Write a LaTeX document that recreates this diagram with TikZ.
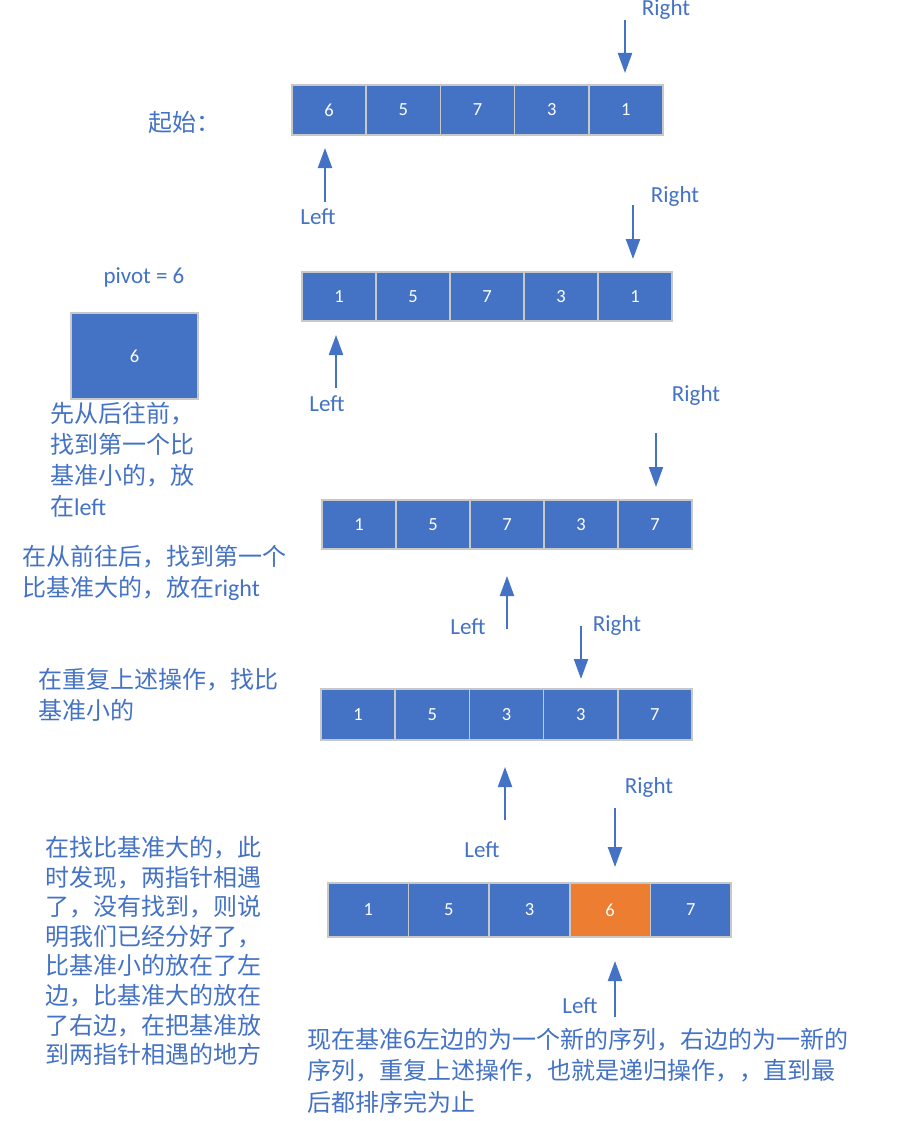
\documentclass[tikz,border=0pt]{standalone}
\usepackage{fontspec}
\setmainfont{Carlito}
\newfontfamily\cjk{Noto Sans CJK SC}
\newfontfamily\lat{Carlito}
\usetikzlibrary{arrows.meta}
\definecolor{cblue}{HTML}{4472C4}
\definecolor{corange}{HTML}{ED7D31}
\definecolor{cborder}{HTML}{C8C8C8}
\begin{document}
\begin{tikzpicture}[x=1pt,y=-1pt,
  cell/.style={draw=cborder, line width=1.5pt, fill=cblue, text=white, inner sep=0pt,
    font=\fontsize{18.5}{20}\selectfont},
  lbl/.style={text=cblue, font=\fontsize{23}{28}\selectfont, inner sep=0pt},
  note/.style={text=cblue, font=\cjk\fontsize{24}{31}\selectfont, align=left, inner sep=0pt, anchor=north west},
  arr/.style={draw=cblue, line width=2.2pt, -{Triangle[length=20pt,width=14pt]}}]
\useasboundingbox (0,0) rectangle (918,1121);
\fill[white] (0,0) rectangle (918,1121);

% rows of cells
\foreach \v [count=\i] in {6,5,7,3,1}
  \node[cell, minimum width=74.2pt, minimum height=50pt] (r1c\i) at ({292+74.2*(\i-0.5)},110) {\v};
\foreach \v [count=\i] in {1,5,7,3,1}
  \node[cell, minimum width=74pt, minimum height=49pt] (r2c\i) at ({302+74*(\i-0.5)},296.5) {\v};
\foreach \v [count=\i] in {1,5,7,3,7}
  \node[cell, minimum width=74pt, minimum height=49pt] (r3c\i) at ({322+74*(\i-0.5)},524.5) {\v};
\foreach \v [count=\i] in {1,5,3,3,7}
  \node[cell, minimum width=74.2pt, minimum height=51pt] (r4c\i) at ({321+74.2*(\i-0.5)},714.5) {\v};
\foreach \v [count=\i] in {1,5,3,6,7}
  \node[cell, minimum width=80.6pt, minimum height=54pt] (r5c\i) at ({328+80.6*(\i-0.5)},910) {\v};
\node[cell, fill=corange, minimum width=80.6pt, minimum height=54pt] (r5c4o) at (r5c4) {6};

% pivot
\node[lbl] (pivlbl) at (144,277) {pivot = 6};
\node[cell, minimum width=127pt, minimum height=86pt] (piv) at (134.5,356) {6};
\node[text=cblue, font=\cjk\fontsize{24}{31}\selectfont, inner sep=0pt, anchor=west] (start) at (148,122) {起始：};

% notes
\node[note] (n1) at (50,402) {先从后往前，\\找到第一个比\\基准小的，放\\在{\lat left}};
\node[note] (n2) at (22,545) {在从前往后，找到第一个\\比基准大的，放在{\lat right}};
\node[note] (n3) at (38,668) {在重复上述操作，找比\\基准小的};
\node[note, font=\cjk\fontsize{24}{29.6}\selectfont] (n4) at (45,836) {在找比基准大的，此\\时发现，两指针相遇\\了，没有找到，则说\\明我们已经分好了，\\比基准小的放在了左\\边，比基准大的放在\\了右边，在把基准放\\到两指针相遇的地方};
\node[note, font=\cjk\fontsize{24}{31.5}\selectfont] (n5) at (307,1028) {现在基准6左边的为一个新的序列，右边的为一新的\\序列，重复上述操作，也就是递归操作，，直到最\\后都排序完为止};

% pointer labels
\node[lbl] (R1) at (666,9) {Right};
\node[lbl] (L1) at (318,217) {Left};
\node[lbl] (R2) at (675,196) {Right};
\node[lbl] (L2) at (327,404) {Left};
\node[lbl] (R3) at (696,395) {Right};
\node[lbl] (L3) at (468,627) {Left};
\node[lbl] (R4) at (617,625) {Right};
\node[lbl] (L4) at (482,850) {Left};
\node[lbl] (R5) at (649,787) {Right};
\node[lbl] (L5) at (580,1006) {Left};

% arrows
\coordinate (a1s) at (625,20);  \coordinate (a1e) at (625,73);
\coordinate (a2s) at (325,202); \coordinate (a2e) at (325,148);
\coordinate (a3s) at (633,205); \coordinate (a3e) at (633,259);
\coordinate (a4s) at (336,388); \coordinate (a4e) at (336,335);
\coordinate (a5s) at (656,433); \coordinate (a5e) at (656,487);
\coordinate (a6s) at (507,629); \coordinate (a6e) at (507,576);
\coordinate (a7s) at (581,626); \coordinate (a7e) at (581,679);
\coordinate (a8s) at (505,820); \coordinate (a8e) at (505,767);
\coordinate (a9s) at (615,808); \coordinate (a9e) at (615,867);
\coordinate (a10s) at (615,1017); \coordinate (a10e) at (615,961);
\foreach \k in {1,...,10} \draw[arr] (a\k s) -- (a\k e);
\end{tikzpicture}
\end{document}
